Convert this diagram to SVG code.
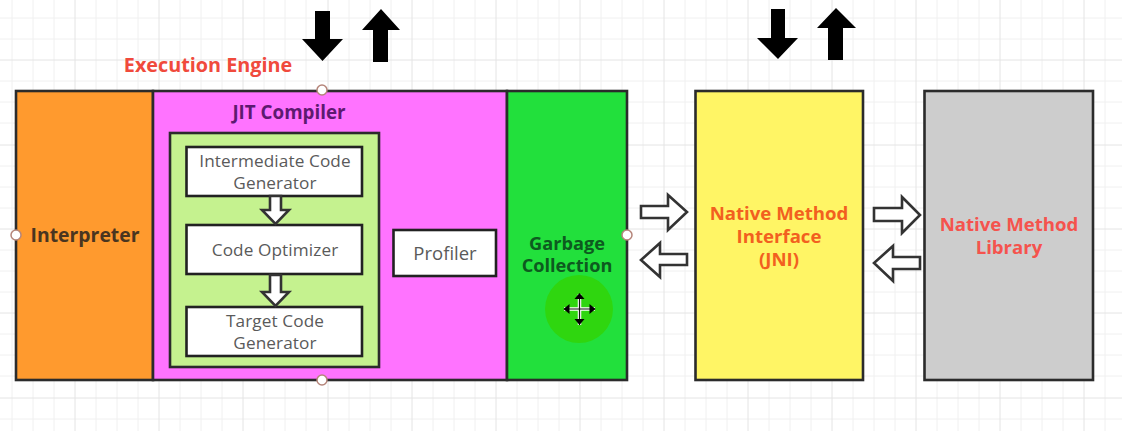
<svg xmlns="http://www.w3.org/2000/svg" width="1122" height="431" viewBox="0 0 1122 431">
  <style>
    text { font-family: "Open Sans", "Noto Sans", "Liberation Sans", sans-serif; text-anchor: middle; }
    .minor { stroke: #f0f0f0; stroke-width: 1; fill: none; }
    .major { stroke: #e4e4e4; stroke-width: 1; fill: none; }
    .box { stroke: #2b2b2b; stroke-width: 2.6; }
    .inner { fill: #fff; stroke: #222; stroke-width: 2.6; }
    .hollow { fill: #fff; stroke: #333; stroke-width: 2.6; stroke-linejoin: miter; }
    .solid { fill: #000; }
    .handle { fill: #fff; stroke: #b5857a; stroke-width: 1.5; }
    .engine { font-weight: 700; font-size: 19.8px; fill: #f04a3c; }
    .title { font-weight: 700; font-size: 19.4px; fill: #4a3520; }
    .jit { font-weight: 700; font-size: 18.8px; fill: #5d1a70; }
    .gc { font-weight: 700; font-size: 18.2px; fill: #0d5a1f; }
    .jni { font-weight: 700; font-size: 18.6px; fill: #f2601f; }
    .lib { font-weight: 700; font-size: 18.6px; fill: #f5534d; }
    .step { font-size: 17.2px; letter-spacing: 0.1px; fill: #5a5a5a; }
    .tool { font-size: 18.5px; fill: #5a5a5a; }
  </style>

  <rect width="1122" height="431" fill="#fff"/>

  <!-- background grid -->
  <g id="grid">
    <path class="minor" d="M12 0V431M33 0V431M54 0V431M96 0V431M117 0V431M138 0V431M180 0V431M201 0V431M222 0V431M264 0V431M285 0V431M306 0V431M349 0V431M370 0V431M391 0V431M433 0V431M454 0V431M475 0V431M517 0V431M538 0V431M559 0V431M601 0V431M622 0V431M643 0V431M685 0V431M706 0V431M727 0V431M769 0V431M790 0V431M811 0V431M853 0V431M874 0V431M895 0V431M937 0V431M958 0V431M979 0V431M1021 0V431M1042 0V431M1063 0V431M1105 0V431"/>
    <path class="minor" d="M0 18H1122M0 39H1122M0 81H1122M0 102H1122M0 123H1122M0 166H1122M0 187H1122M0 208H1122M0 250H1122M0 271H1122M0 292H1122M0 334H1122M0 355H1122M0 376H1122M0 419H1122"/>
    <path class="major" d="M75 0V431M159 0V431M243 0V431M328 0V431M412 0V431M496 0V431M580 0V431M664 0V431M748 0V431M832 0V431M916 0V431M1000 0V431M1084 0V431"/>
    <path class="major" d="M0 60H1122M0 145H1122M0 229H1122M0 313H1122M0 398H1122"/>
  </g>

  <text x="208" y="72" class="engine">Execution Engine</text>

  <g id="interpreter">
    <rect class="box" x="16" y="91" width="137" height="289" fill="#ff9a2e"/>
    <text x="85" y="242" class="title">Interpreter</text>
  </g>

  <g id="jit-compiler">
    <rect class="box" x="153" y="91" width="354" height="289" fill="#ff73ff"/>
    <text x="289" y="119" class="jit">JIT Compiler</text>
  </g>

  <g id="compiler-stages">
    <rect class="box" x="170" y="133" width="209" height="234" fill="#c5f28f"/>
  </g>

  <g id="intermediate-code-generator">
    <rect class="inner" x="186.500" y="147" width="175.500" height="49"/>
    <text x="275" y="167" class="step">Intermediate Code<tspan x="275" dy="22">Generator</tspan></text>
  </g>

  <g id="code-optimizer">
    <rect class="inner" x="186.500" y="225" width="175.500" height="49"/>
    <text x="275" y="256" class="step">Code Optimizer</text>
  </g>

  <g id="target-code-generator">
    <rect class="inner" x="186.500" y="307" width="175.500" height="49"/>
    <text x="275" y="327" class="step">Target Code<tspan x="275" dy="22">Generator</tspan></text>
  </g>

  <g id="profiler">
    <rect class="inner" x="393.500" y="230" width="102.500" height="46"/>
    <text x="445" y="260" class="tool">Profiler</text>
  </g>

  <g id="garbage-collection">
    <rect class="box" x="507" y="91" width="120" height="289" fill="#22e03c"/>
    <text x="567" y="250" class="gc">Garbage<tspan x="567" dy="22">Collection</tspan></text>
  </g>

  <g id="native-method-interface">
    <rect class="box" x="695.500" y="91" width="167.500" height="289" fill="#fff565"/>
    <text x="779" y="219.500" class="jni">Native Method<tspan x="779" dy="23">Interface</tspan><tspan x="779" dy="23">(JNI)</tspan></text>
  </g>

  <g id="native-method-library">
    <rect class="box" x="924.500" y="91" width="168.500" height="289" fill="#cdcdcd"/>
    <text x="1009" y="231" class="lib">Native Method<tspan x="1009" dy="23">Library</tspan></text>
  </g>

  <g id="connectors">
    <!-- stage flow -->
    <polygon class="hollow" points="270,196 281,196 281,210 289,210 275.500,224 262,210 270,210"/>
    <polygon class="hollow" points="270,275 281,275 281,292 289,292 275.500,306 262,292 270,292"/>
    <!-- engine and JNI -->
    <polygon class="hollow" points="641,206 668,206 668,195 687,212 668,230 668,218 641,218"/>
    <polygon class="hollow" points="687,254 660,254 660,243 641,260 660,277 660,265 687,265"/>
    <!-- JNI and library -->
    <polygon class="hollow" points="874,208 902,208 902,197 920,215 902,233 902,221 874,221"/>
    <polygon class="hollow" points="920,257 893,257 893,246 874,263 893,281 893,269 920,269"/>
    <!-- external flows -->
    <polygon class="solid" points="315,11 330,11 330,39 343,39 322.500,61 302,39 315,39"/>
    <polygon class="solid" points="373,62 388,62 388,30 400,30 381,9 362,30 373,30"/>
    <polygon class="solid" points="771,9 785,9 785,38 798,38 778,59 757,38 771,38"/>
    <polygon class="solid" points="828,60 843,60 843,28 856,28 836,8 817,28 828,28"/>
  </g>

  <g id="selection-handles">
    <circle class="handle" cx="322" cy="90" r="5"/>
    <circle class="handle" cx="322" cy="380" r="5"/>
    <circle class="handle" cx="16" cy="235" r="5"/>
    <circle class="handle" cx="627" cy="235" r="5"/>
  </g>

  <g id="move-cursor">
    <circle cx="579" cy="309" r="34" fill="#2fd60f"/>
    <path d="M564 309H595M579.500 294V325" stroke="#fff" stroke-width="3.500" fill="none"/>
    <path d="M564 309H595M579.500 294V325" stroke="#111" stroke-width="1.200" fill="none"/>
    <polygon class="solid" points="579.500,293 574.500,299 584.500,299"/>
    <polygon class="solid" points="579.500,325 574.500,319 584.500,319"/>
    <polygon class="solid" points="563.500,309 569.500,304 569.500,314"/>
    <polygon class="solid" points="595.500,309 589.500,304 589.500,314"/>
  </g>
</svg>
